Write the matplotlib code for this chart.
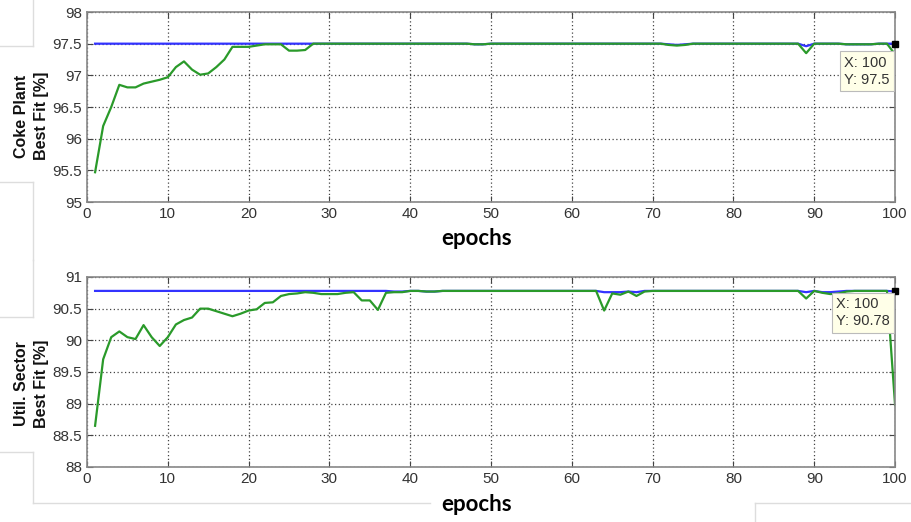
import numpy as np
import matplotlib.pyplot as plt
from matplotlib.lines import Line2D

epochs = np.arange(1, 101)

# Coke plant: green = best fit per epoch, blue = overall best
coke_fit = [95.47, 96.20, 96.50, 96.85, 96.81, 96.81, 96.87, 96.90, 96.93, 96.97,
            97.13, 97.22, 97.09, 97.01, 97.03, 97.13, 97.25, 97.45, 97.45, 97.45,
            97.47, 97.49, 97.49, 97.49, 97.39, 97.39, 97.40, 97.50, 97.50, 97.50,
            97.50, 97.50, 97.50, 97.50, 97.50, 97.50, 97.50, 97.50, 97.50, 97.50,
            97.50, 97.50, 97.50, 97.50, 97.50, 97.50, 97.50, 97.49, 97.49, 97.50,
            97.50, 97.50, 97.50, 97.50, 97.50, 97.50, 97.50, 97.50, 97.50, 97.50,
            97.50, 97.50, 97.50, 97.50, 97.50, 97.50, 97.50, 97.50, 97.50, 97.50,
            97.50, 97.48, 97.47, 97.48, 97.50, 97.50, 97.50, 97.50, 97.50, 97.50,
            97.50, 97.50, 97.50, 97.50, 97.50, 97.50, 97.50, 97.50, 97.35, 97.50,
            97.50, 97.50, 97.50, 97.49, 97.49, 97.49, 97.49, 97.50, 97.50, 97.33]
coke_best = [97.50] * 100
for i, v in [(48, 97.49), (49, 97.49), (72, 97.49), (73, 97.48), (74, 97.49),
             (89, 97.46), (94, 97.49), (95, 97.49), (96, 97.49), (97, 97.49)]:
    coke_best[i - 1] = v

util_fit = [88.65, 89.70, 90.05, 90.14, 90.05, 90.02, 90.24, 90.05, 89.91, 90.05,
            90.25, 90.32, 90.36, 90.50, 90.50, 90.46, 90.42, 90.38, 90.42, 90.47,
            90.49, 90.59, 90.60, 90.70, 90.73, 90.74, 90.76, 90.75, 90.73, 90.73,
            90.73, 90.75, 90.76, 90.63, 90.63, 90.48, 90.75, 90.76, 90.76, 90.78,
            90.78, 90.77, 90.77, 90.78, 90.78, 90.78, 90.78, 90.78, 90.78, 90.78,
            90.78, 90.78, 90.78, 90.78, 90.78, 90.78, 90.78, 90.78, 90.78, 90.78,
            90.78, 90.78, 90.78, 90.47, 90.74, 90.72, 90.77, 90.70, 90.77, 90.78,
            90.78, 90.78, 90.78, 90.78, 90.78, 90.78, 90.78, 90.78, 90.78, 90.78,
            90.78, 90.78, 90.78, 90.78, 90.78, 90.78, 90.78, 90.78, 90.66, 90.78,
            90.75, 90.73, 90.74, 90.77, 90.78, 90.78, 90.78, 90.78, 90.78, 88.98]
util_best = [90.78] * 100
for i, v in [(38, 90.77), (39, 90.77), (42, 90.77), (43, 90.77), (64, 90.76),
             (65, 90.76), (66, 90.76), (67, 90.77), (68, 90.76), (89, 90.76),
             (91, 90.76), (92, 90.76), (93, 90.77), (100, 90.77)]:
    util_best[i - 1] = v

panels = [
    dict(fit=coke_fit, best=coke_best, ylim=(95, 98), yticks=[95, 95.5, 96, 96.5, 97, 97.5, 98],
         ylabel="Coke Plant\nBest Fit [%]", tip="X: 100\nY: 97.5", tipval=97.5,
         rect=[0.0955, 0.613, 0.887, 0.364], xlab_y=0.543, tipoff=(-51, -12), laby=0.453),
    dict(fit=util_fit, best=util_best, ylim=(88, 91), yticks=[88, 88.5, 89, 89.5, 90, 90.5, 91],
         ylabel="Util. Sector\nBest Fit [%]", tip="X: 100\nY: 90.78", tipval=90.78,
         rect=[0.0955, 0.1054, 0.887, 0.364], xlab_y=0.033, tipoff=(-59, -6), laby=0.437),
]

tick_font = "Liberation Sans"
label_font = "Lato"

fig = plt.figure(figsize=(9.11, 5.22), dpi=100)

for p in panels:
    ax = fig.add_axes(p["rect"])
    ax.plot(epochs, p["best"], color="#3333ff", lw=1.6)
    ax.plot(epochs, p["fit"], color="#2a9a2a", lw=1.6)
    ax.set_xlim(0, 100)
    ax.set_ylim(*p["ylim"])
    ax.set_xticks(range(0, 101, 10))
    ax.set_yticks(p["yticks"])
    ax.set_yticklabels([f"{t:g}" for t in p["yticks"]])
    for lab in ax.get_xticklabels() + ax.get_yticklabels():
        lab.set_fontfamily(tick_font)
    ax.grid(True, linestyle=(0, (1, 2)), color="#444444", lw=0.9)
    ax.tick_params(direction="in", labelsize=11, labelcolor="#333333",
                   color="#444444", length=4, top=True, right=True)
    for s in ax.spines.values():
        s.set_color("#888888")
        s.set_linewidth(1.2)
    ax.set_ylabel(p["ylabel"], fontsize=11.5, fontweight="bold", family=tick_font,
                  linespacing=1.4, va="center", ha="center", color="#111111")
    ax.yaxis.set_label_coords(-0.069, p["laby"])
    fig.text(0.523, p["xlab_y"], "epochs", fontsize=16, fontweight="bold",
             family=label_font, ha="center", va="center")
    # data tip
    ax.plot([100], [p["tipval"]], marker="s", color="black", ms=5, clip_on=False, zorder=5)
    ax.annotate(p["tip"], xy=(100, p["tipval"]), xytext=p["tipoff"],
                textcoords="offset pixels", ha="left", va="top", fontsize=10.5,
                family=tick_font, color="#333333", linespacing=1.3,
                bbox=dict(boxstyle="square,pad=0.3", fc="#ffffe8", ec="#bbbbbb", lw=0.8),
                zorder=6)

# faint edges of the pasted label boxes
edge = "#dddddd"
segs = [([33, 33], [0, 46]), ([0, 33], [46, 46]), ([0, 33], [182, 182]), ([33, 33], [182, 260]),
        ([0, 33], [317, 317]), ([33, 33], [260, 317]), ([0, 33], [452, 452]),
        ([33, 33], [452, 503]), ([33, 430], [503, 503]), ([755, 911], [503, 503]),
        ([755, 755], [503, 522])]
for xs, ys in segs:
    fig.add_artist(Line2D([x / 911 for x in xs], [1 - y / 522 for y in ys],
                          color=edge, lw=1))

fig.savefig("out.png", dpi=100)
